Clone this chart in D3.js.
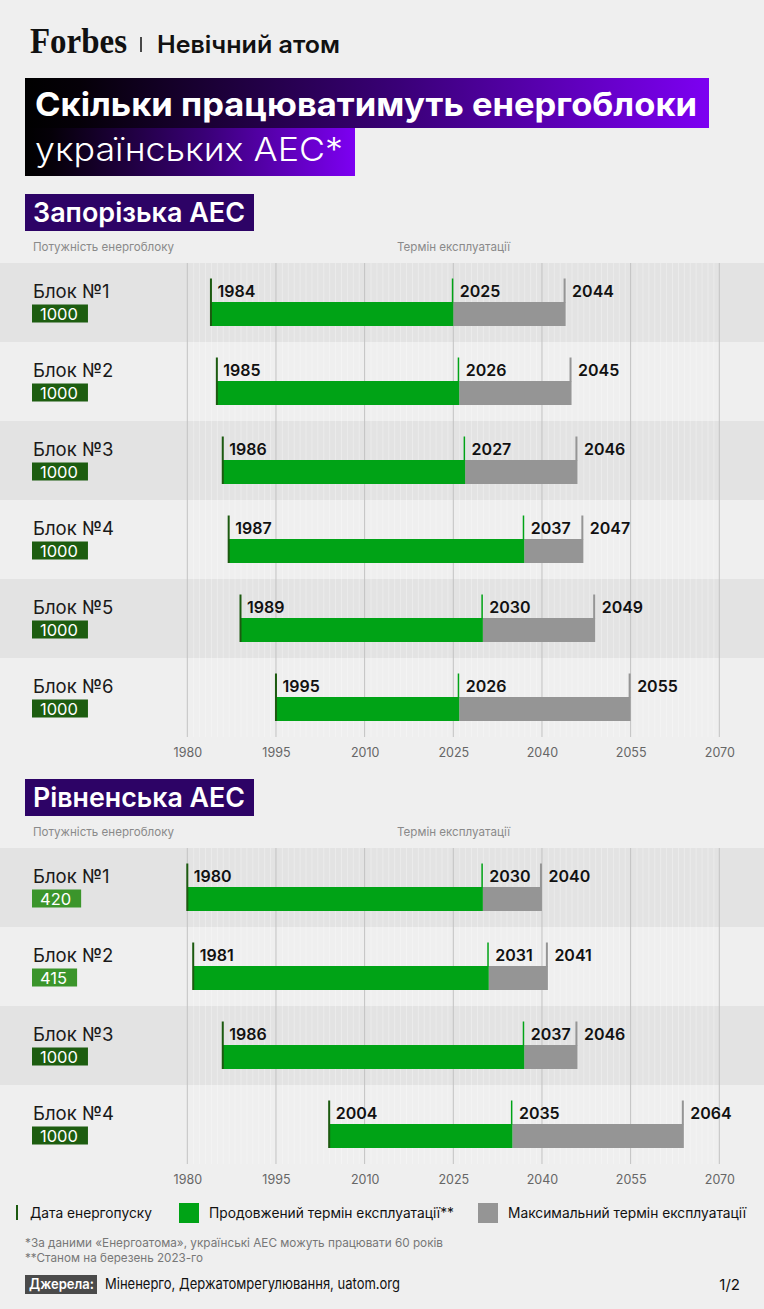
<!DOCTYPE html>
<html>
<head>
<meta charset="utf-8">
<script src="https://cdn.jsdelivr.net/npm/d3@7"></script>
<style>
  body { margin: 0; background: #efefef; }
  svg { display: block; }
  text { font-family: Inter, "Noto Sans", sans-serif; }
</style>
</head>
<body>
<script>
// Запорізька АЕС
const zapUnits = ["Блок №1", "Блок №2", "Блок №3", "Блок №4", "Блок №5", "Блок №6"];
const zapCapacity = [1000, 1000, 1000, 1000, 1000, 1000];
const zapStart = [1984, 1985, 1986, 1987, 1989, 1995];
const zapExtended = [2025, 2026, 2027, 2037, 2030, 2026];
const zapMax = [2044, 2045, 2046, 2047, 2049, 2055];

// Рівненська АЕС
const rivUnits = ["Блок №1", "Блок №2", "Блок №3", "Блок №4"];
const rivCapacity = [420, 415, 1000, 1000];
const rivStart = [1980, 1981, 1986, 2004];
const rivExtended = [2030, 2031, 2037, 2035];
const rivMax = [2040, 2041, 2046, 2064];

const tickYears = [1980, 1995, 2010, 2025, 2040, 2055, 2070];

const W = 764, H = 1309;
const rowH = 79;
const green = "#00a316", gray = "#959595", darkGreen = "#1c5a10";

const x = d3.scaleLinear().domain([1980, 2070]).range([187.3, 719.3]);

const svg = d3.select("body").append("svg")
    .attr("width", W)
    .attr("height", H);

svg.append("rect").attr("width", W).attr("height", H).attr("fill", "#efefef");

const defs = svg.append("defs");
const grad = defs.append("linearGradient").attr("id", "titleGrad");
grad.append("stop").attr("offset", "0%").attr("stop-color", "#000");
grad.append("stop").attr("offset", "8%").attr("stop-color", "#050008");
grad.append("stop").attr("offset", "55%").attr("stop-color", "#3a0078");
grad.append("stop").attr("offset", "100%").attr("stop-color", "#7d00f2");

// header
svg.append("text")
    .attr("x", 30).attr("y", 53)
    .attr("textLength", 97).attr("lengthAdjust", "spacingAndGlyphs")
    .style("font-family", "'Liberation Serif', 'DejaVu Serif', serif")
    .style("font-weight", 700).style("font-size", "35px")
    .attr("fill", "#111")
    .text("Forbes");
svg.append("line")
    .attr("x1", 141).attr("x2", 141).attr("y1", 37).attr("y2", 52)
    .attr("stroke", "#111").attr("stroke-width", 1.5);
svg.append("text")
    .attr("x", 157).attr("y", 53)
    .attr("textLength", 183).attr("lengthAdjust", "spacingAndGlyphs")
    .style("font-weight", 600).style("font-size", "24px")
    .attr("fill", "#111")
    .text("Невічний атом");

// title
svg.append("rect").attr("x", 25).attr("y", 78).attr("width", 684).attr("height", 50)
    .attr("fill", "url(#titleGrad)");
svg.append("rect").attr("x", 25).attr("y", 128).attr("width", 330).attr("height", 48)
    .attr("fill", "url(#titleGrad)");
svg.append("text")
    .attr("x", 35).attr("y", 116)
    .attr("textLength", 662).attr("lengthAdjust", "spacingAndGlyphs")
    .style("font-weight", 700).style("font-size", "33px")
    .attr("fill", "#fff")
    .text("Скільки працюватимуть енергоблоки");
svg.append("text")
    .attr("x", 35).attr("y", 161)
    .attr("textLength", 308).attr("lengthAdjust", "spacingAndGlyphs")
    .style("font-weight", 300).style("font-size", "33px")
    .attr("fill", "#fff")
    .text("українських АЕС*");

function drawPlant(name, headerY, units, capacity, start, extended, max) {
  const g = svg.append("g");
  const rowsTop = headerY + 69;
  const rowsBottom = rowsTop + units.length * rowH;

  g.append("rect").attr("x", 25).attr("y", headerY).attr("width", 229).attr("height", 37)
      .attr("fill", "#2d0366");
  g.append("text")
      .attr("x", 33).attr("y", headerY + 28)
      .attr("textLength", 212).attr("lengthAdjust", "spacingAndGlyphs")
      .style("font-weight", 600).style("font-size", "27px")
      .attr("fill", "#fff")
      .text(name);

  g.append("text")
      .attr("x", 33).attr("y", headerY + 57)
      .attr("textLength", 141).attr("lengthAdjust", "spacingAndGlyphs")
      .style("font-size", "12px").attr("fill", "#8a8a8a")
      .text("Потужність енергоблоку");
  g.append("text")
      .attr("x", 397).attr("y", headerY + 57)
      .attr("textLength", 113).attr("lengthAdjust", "spacingAndGlyphs")
      .style("font-size", "12px").attr("fill", "#8a8a8a")
      .text("Термін експлуатації");

  // row bands
  g.selectAll(".band").data(units).join("rect")
      .attr("x", 0).attr("width", W)
      .attr("y", (d, i) => rowsTop + i * rowH)
      .attr("height", rowH)
      .attr("fill", (d, i) => i % 2 === 0 ? "#e3e3e3" : "#efefef");

  // grid
  g.selectAll(".minor").data(d3.range(1981, 2070).filter(v => !tickYears.includes(v))).join("line")
      .attr("x1", d => x(d) + 0.5).attr("x2", d => x(d) + 0.5)
      .attr("y1", rowsTop).attr("y2", rowsBottom)
      .attr("stroke", "#fff").attr("stroke-opacity", 0.3);
  g.selectAll(".major").data(tickYears).join("line")
      .attr("x1", d => x(d)).attr("x2", d => x(d))
      .attr("y1", rowsTop).attr("y2", rowsBottom)
      .attr("stroke", "#c2c2c2");

  const axis = g.append("g")
      .attr("transform", "translate(0," + rowsBottom + ")")
      .call(d3.axisBottom(x).tickValues(tickYears).tickSize(0).tickPadding(11).tickFormat(d3.format("d")));
  axis.select(".domain").remove();
  axis.selectAll("text")
      .style("font-family", "Inter, sans-serif")
      .style("font-size", "12.5px")
      .attr("fill", "#666");

  units.forEach((u, i) => {
    const T = rowsTop + i * rowH;
    const row = g.append("g");

    row.append("text")
        .attr("x", 33).attr("y", T + 34.5)
        .style("font-size", "18.5px").attr("fill", "#1a1a1a")
        .text(u);
    const box = row.append("rect")
        .attr("x", 32).attr("y", T + 41.5).attr("height", 18)
        .attr("fill", capacity[i] < 1000 ? "#3b952b" : "#1d5d10");
    const capText = row.append("text")
        .attr("x", 40).attr("y", T + 57)
        .style("font-size", "16.5px").attr("fill", "#fff")
        .text(capacity[i]);
    box.attr("width", capText.node().getComputedTextLength() + 18);

    // bars
    row.append("rect")
        .attr("x", x(extended[i])).attr("y", T + 39)
        .attr("width", x(max[i]) - x(extended[i])).attr("height", 24)
        .attr("fill", gray);
    row.append("rect")
        .attr("x", x(start[i])).attr("y", T + 39)
        .attr("width", x(extended[i]) - x(start[i])).attr("height", 24)
        .attr("fill", green);

    // markers
    row.append("rect")
        .attr("x", x(start[i]) - 1).attr("y", T + 15.5)
        .attr("width", 2).attr("height", 47.5)
        .attr("fill", darkGreen);
    row.append("rect")
        .attr("x", x(extended[i]) - 1.5).attr("y", T + 15.5)
        .attr("width", 1.5).attr("height", 24)
        .attr("fill", green);
    row.append("rect")
        .attr("x", x(max[i]) - 2).attr("y", T + 15.5)
        .attr("width", 2).attr("height", 24)
        .attr("fill", gray);

    [start[i], extended[i], max[i]].forEach(v => {
      row.append("text")
          .attr("x", x(v) + 6.5).attr("y", T + 34)
          .style("font-size", "16px").style("font-weight", 600)
          .attr("fill", "#111")
          .text(v);
    });
  });
}

drawPlant("Запорізька АЕС", 194, zapUnits, zapCapacity, zapStart, zapExtended, zapMax);
drawPlant("Рівненська АЕС", 779, rivUnits, rivCapacity, rivStart, rivExtended, rivMax);

// legend
const legend = svg.append("g");
legend.append("rect").attr("x", 16).attr("y", 1205).attr("width", 2).attr("height", 15).attr("fill", darkGreen);
legend.append("text").attr("x", 30).attr("y", 1218)
    .attr("textLength", 122).attr("lengthAdjust", "spacingAndGlyphs")
    .style("font-size", "14px").attr("fill", "#111").text("Дата енергопуску");
legend.append("rect").attr("x", 179).attr("y", 1203).attr("width", 20).attr("height", 20).attr("fill", green);
legend.append("text").attr("x", 209).attr("y", 1218)
    .attr("textLength", 245).attr("lengthAdjust", "spacingAndGlyphs")
    .style("font-size", "14px").attr("fill", "#111").text("Продовжений термін експлуатації**");
legend.append("rect").attr("x", 478).attr("y", 1203).attr("width", 20).attr("height", 20).attr("fill", gray);
legend.append("text").attr("x", 508).attr("y", 1218)
    .attr("textLength", 238).attr("lengthAdjust", "spacingAndGlyphs")
    .style("font-size", "14px").attr("fill", "#111").text("Максимальний термін експлуатації");

// notes
svg.append("text").attr("x", 25).attr("y", 1247)
    .attr("textLength", 418).attr("lengthAdjust", "spacingAndGlyphs")
    .style("font-size", "12px").attr("fill", "#777")
    .text("*За даними «Енергоатома», українські АЕС можуть працювати 60 років");
svg.append("text").attr("x", 25).attr("y", 1262)
    .attr("textLength", 178).attr("lengthAdjust", "spacingAndGlyphs")
    .style("font-size", "12px").attr("fill", "#777")
    .text("**Станом на березень 2023-го");

svg.append("rect").attr("x", 25).attr("y", 1275).attr("width", 72).attr("height", 19).attr("fill", "#4a4a4a");
svg.append("text").attr("x", 29).attr("y", 1289)
    .attr("textLength", 65).attr("lengthAdjust", "spacingAndGlyphs")
    .style("font-size", "14px").style("font-weight", 600).attr("fill", "#fff")
    .text("Джерела:");
svg.append("text").attr("x", 105).attr("y", 1289)
    .attr("textLength", 295).attr("lengthAdjust", "spacingAndGlyphs")
    .style("font-size", "15px").attr("fill", "#111")
    .text("Міненерго, Держатомрегулювання, uatom.org");
svg.append("text").attr("x", 740).attr("y", 1290)
    .attr("text-anchor", "end")
    .style("font-size", "15px").attr("fill", "#111")
    .text("1/2");
</script>
</body>
</html>
